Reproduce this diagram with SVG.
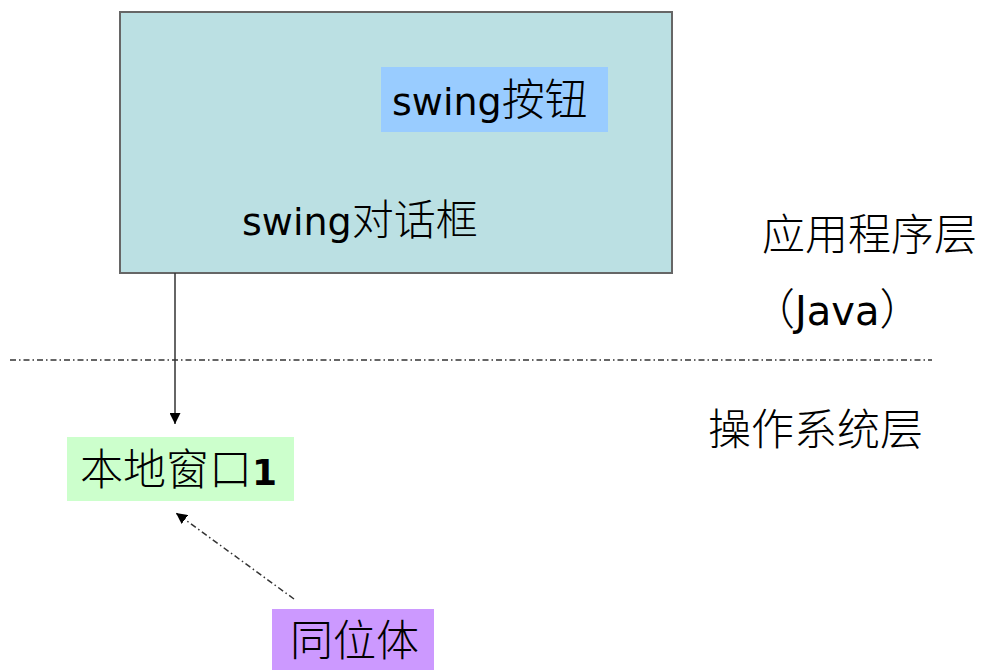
<svg xmlns="http://www.w3.org/2000/svg" width="982" height="670" viewBox="0 0 982 670">
<style>
.t{font-family:"DejaVu Sans","Noto Sans CJK SC",sans-serif;fill:#000}
.c{font-family:"Noto Sans CJK SC",sans-serif;font-weight:300}
.lbl{font-family:"Noto Sans CJK SC",sans-serif;font-weight:300;font-size:43px;fill:#000}
</style>
<defs>
<marker id="ah" viewBox="0 0 10 10" refX="10" refY="5" markerWidth="11" markerHeight="11" markerUnits="userSpaceOnUse" orient="auto">
<path d="M0,0 L10,5 L0,10 z" fill="#000"/>
</marker>
</defs>
<rect width="982" height="670" fill="#fff"/>
<line x1="10" y1="360" x2="932" y2="360" stroke="#333" stroke-width="1.5" stroke-dasharray="6 3 1.5 3"/>
<g id="dialog">
<rect x="120" y="12" width="552" height="261" fill="#BBE0E3" stroke="#666" stroke-width="2"/>
<text class="t" x="242" y="235" font-size="38">swing<tspan class="c" font-size="42">对话框</tspan></text>
</g>
<g id="button">
<rect x="381" y="67" width="227" height="65" fill="#99CCFF"/>
<text class="t" x="392" y="115" font-size="38">swing<tspan class="c" font-size="43">按钮</tspan></text>
</g>
<g id="native">
<rect x="67" y="437" width="227" height="64" fill="#CCFFCC"/>
<text class="lbl" x="80" y="485" font-size="42">本地窗口<tspan font-family="DejaVu Sans" font-weight="bold" font-size="36">1</tspan></text>
</g>
<g id="peer">
<rect x="272" y="609" width="162" height="61" fill="#CC99FF"/>
<text class="lbl" x="290" y="656" font-size="41">同位体</text>
</g>
<g id="labels">
<text class="lbl" x="762" y="250">应用程序层</text>
<text class="lbl" x="752" y="325">（<tspan font-family="DejaVu Sans" font-weight="normal" font-size="40">Java</tspan>）</text>
<text class="lbl" x="708" y="445">操作系统层</text>
</g>
<g id="connectors">
<line x1="175" y1="273" x2="175" y2="424" stroke="#333" stroke-width="1.5" marker-end="url(#ah)"/>
<line x1="294" y1="599" x2="176" y2="513" stroke="#333" stroke-width="1.5" stroke-dasharray="6 3 1.5 3" marker-end="url(#ah)"/>
</g>
</svg>
